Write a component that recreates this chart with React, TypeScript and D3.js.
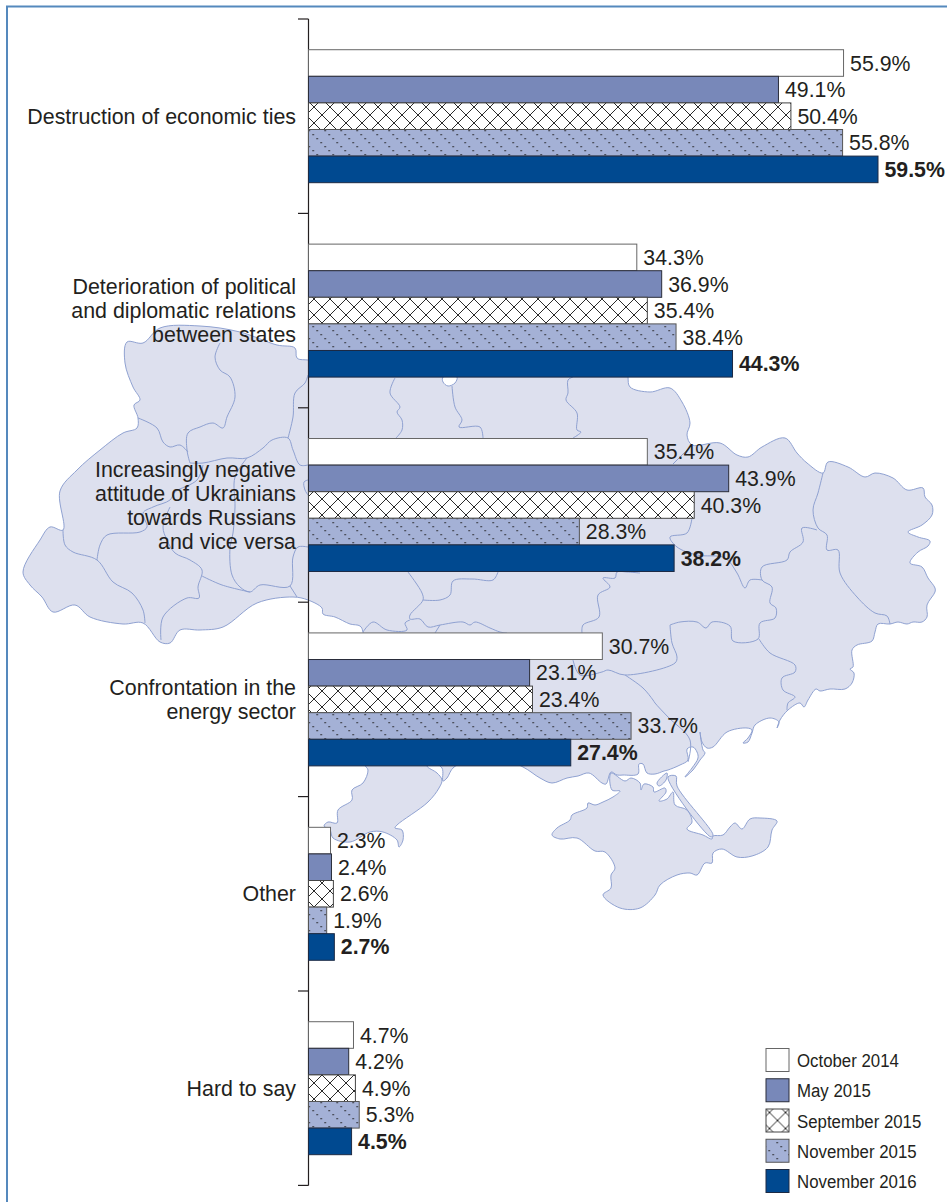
import React from "react";
import * as d3 from "d3";

const categories = [
  ["Destruction of economic ties"],
  ["Deterioration of political", "and diplomatic relations", "between states"],
  ["Increasingly negative", "attitude of Ukrainians", "towards Russians", "and vice versa"],
  ["Confrontation in the", "energy sector"],
  ["Other"],
  ["Hard to say"],
];
const seriesNames = ["October 2014", "May 2015", "September 2015", "November 2015", "November 2016"];
const october2014 = [55.9, 34.3, 35.4, 30.7, 2.3, 4.7];
const may2015 = [49.1, 36.9, 43.9, 23.1, 2.4, 4.2];
const september2015 = [50.4, 35.4, 40.3, 23.4, 2.6, 4.9];
const november2015 = [55.8, 38.4, 28.3, 33.7, 1.9, 5.3];
const november2016 = [59.5, 44.3, 38.2, 27.4, 2.7, 4.5];
const seriesValues = [october2014, may2015, september2015, november2015, november2016];
const seriesFills = ["#ffffff", "#7888b9", "url(#cross)", "url(#dots)", "#004990"];
const legendFills = ["#ffffff", "#7888b9", "url(#crossLegend)", "url(#dots)", "#004990"];
const seriesStrokes = ["#666666", "#2a2d3a", "#444444", "#555555", "#1c2a44"];

type P = [number, number];
// Backdrop map of Ukraine, in page pixels
const mainland: P[] = [
  [127,342],[143,343],[160,328],[200,326],[240,332],[277,345],[295,348],[297,358],[308,360],[628,360],[628,377],[630,387],
  [650,392],[670,388],[682,402],[690,423],[687,435],[692,445],[720,443],[737,455],[748,457],[762,447],[785,438],[797,453],
  [807,463],[823,473],[828,462],[848,467],[865,477],[875,473],[893,478],[907,490],[923,488],[925,497],[932,505],[932,515],
  [922,525],[908,532],[918,537],[930,541],[928,546],[918,552],[910,563],[922,567],[928,578],[935,588],[935,592],[927,605],
  [927,617],[922,622],[913,622],[907,624],[898,622],[890,624],[878,624],[875,632],[872,641],[857,645],[852,650],[853,667],
  [850,669],[854,673],[852,683],[845,689],[830,689],[820,691],[816,689],[808,700],[804,707],[800,703],[788,710],[780,720],
  [777,728],[779,722],[770,718],[755,725],[752,733],[748,742],[743,743],[748,738],[752,730],[747,728],[727,732],[713,747],
  [707,748],[702,742],[700,732],[703,750],[705,753],[700,760],[693,770],[685,777],[692,768],[698,758],[697,752],[693,747],
  [687,749],[688,760],[680,765],[668,770],[664,771],[655,774],[647,773],[643,764],[639,764],[638,774],[623,775],[617,775],
  [611,772],[606,784],[602,783],[589,773],[578,776],[567,778],[552,783],[540,778],[523,767],[490,755],[454,767],[447,778],
  [443,781],[442,768],[430,762],[427,766],[437,773],[442,780],[439,788],[428,802],[397,825],[395,828],[402,830],[403,840],
  [399,847],[397,840],[383,832],[370,832],[350,842],[333,838],[330,830],[324,826],[328,822],[337,823],[338,810],[352,800],
  [352,790],[363,783],[368,770],[365,765],[363,632],[360,626],[350,624],[335,617],[323,614],[322,608],[308,600],[293,597],
  [257,603],[223,627],[200,630],[180,630],[170,643],[160,642],[143,623],[123,624],[90,617],[75,605],[53,612],[42,597],
  [30,585],[23,572],[40,540],[50,527],[63,530],[60,491],[77,470],[100,450],[123,433],[137,428],[138,418],[134,405],[140,400],
  [133,387],[125,363],
];
const crimea: P[] = [
  [611,773],[625,781],[631,778],[640,783],[641,790],[644,784],[653,787],[654,792],[665,788],[666,792],[659,801],[667,799],
  [673,792],[675,805],[687,810],[692,822],[687,829],[703,835],[712,839],[713,836],[723,835],[730,827],[735,823],[742,829],
  [750,819],[760,818],[777,821],[772,830],[768,847],[752,856],[737,857],[722,849],[713,853],[712,863],[705,863],[697,875],
  [690,873],[677,875],[660,885],[655,895],[640,908],[620,908],[603,895],[611,888],[611,875],[615,868],[605,852],[595,851],
  [577,838],[560,839],[552,835],[557,828],[570,820],[572,815],[587,808],[588,803],[595,805],[603,802],[613,797],[620,791],
  [612,790],
];
const arabatSpit: P[] = [[668,777],[676,776],[677,786],[713,835],[711,837]];
const sivashIsland: P[] = [[657,783],[667,773],[666,780],[659,786]];
const northHole: P[] = [[443,377],[443,382],[448,386],[455,383],[457,377]];
const borders: P[][] = [
  [[220,343],[215,357],[220,370],[230,377],[235,397],[227,417],[223,428],[213,423],[200,427],[188,433],[187,450],[190,463]],
  [[138,418],[157,428],[163,442],[170,447],[180,445],[188,452]],
  [[190,463],[203,463],[227,458],[247,458],[263,448],[272,440],[288,438],[293,450],[300,465],[308,465]],
  [[288,438],[293,417],[295,393],[305,383],[308,375]],
  [[247,458],[235,477],[235,507],[233,533],[230,548],[232,575],[240,587],[250,592],[260,585],[290,586],[293,557],[298,547],[308,547]],
  [[290,586],[297,597]],
  [[203,465],[197,480],[175,492],[170,500],[153,507],[143,513],[147,527],[140,532],[107,535],[100,545],[97,560]],
  [[63,530],[65,545],[73,552],[97,560],[113,582],[132,593],[143,610],[145,623]],
  [[170,507],[163,527],[167,540],[175,553],[190,560],[202,570],[198,587],[199,598],[187,598],[163,617],[161,640]],
  [[202,576],[222,585],[250,592]],
  [[308,480],[304,482],[305,490],[308,495]],
  [[395,378],[390,393],[400,407],[397,412],[402,420],[402,430],[396,438]],
  [[452,386],[455,407],[462,420],[459,427],[480,427],[483,438]],
  [[573,377],[568,380],[568,393],[566,400],[577,413],[577,430],[581,432],[573,438]],
  [[823,473],[818,493],[813,510],[818,528],[827,535],[827,550],[838,550],[840,573],[857,597],[875,613],[887,616],[890,624]],
  [[817,530],[802,528],[803,542],[790,552],[787,560],[762,567],[762,580],[772,587],[770,603],[776,608],[775,618],[760,623],[758,639],[733,641],[730,626],[712,622],[706,628],[697,622],[680,622],[670,625]],
  [[759,639],[770,653],[795,665],[795,672],[782,678],[783,690],[795,697],[788,703],[787,710]],
  [[670,625],[672,643],[677,657],[675,663],[625,675],[608,670],[602,672],[580,675],[573,660]],
  [[625,675],[643,688],[653,700],[655,703],[668,717],[690,740],[688,762]],
  [[408,572],[422,593],[423,600],[410,615],[410,619],[420,619],[428,627],[440,625],[463,622],[470,625],[475,622],[490,628],[500,632],[507,633]],
  [[423,600],[440,600],[450,595],[453,581],[472,579],[493,580],[498,572]],
  [[363,632],[373,622],[387,630],[407,630],[405,623],[410,620]],
  [[440,625],[435,633]],
  [[640,573],[627,572],[617,572],[615,578],[603,578],[610,587],[598,595],[599,617],[583,625],[582,633]],
  [[692,518],[687,533],[670,537],[677,547],[697,555],[725,558],[737,573],[745,588],[750,580],[762,580]],
  [[692,445],[673,464]],
];

const width = 947;
const height = 1202;
const textColor = "#231f20";
const sans = "'Liberation Sans', Arial, sans-serif";

export default function App() {
  const x = d3.scaleLinear().domain([0, 59.5]).range([308.5, 878]);
  const groupIdx = categories.map((_, i) => i);
  const y0 = d3.scaleBand<number>().domain(groupIdx).range([19, 1185.4]).paddingInner(0.316).paddingOuter(0.158);
  const y1 = d3.scaleBand<number>().domain(seriesNames.map((_, i) => i)).range([0, y0.bandwidth()]);
  const tickYs = d3.range(categories.length + 1).map((i) => 19 + i * y0.step());
  const closed = d3.line<P>().curve(d3.curveCatmullRomClosed.alpha(0.5));
  const open = d3.line<P>().curve(d3.curveCatmullRom.alpha(0.5));
  const legendY = d3.scaleLinear().domain([0, 4]).range([1048.5, 1169.5]);
  const mapStroke = "#8a9dcf";
  const mapFill = "#dde0ee";
  return (
    <svg width={width} height={height} viewBox={`0 0 ${width} ${height}`}
      style={{ position: "absolute", left: 0, top: 0, display: "block", background: "#fff" }}>
      <defs>
        <pattern id="cross" patternUnits="userSpaceOnUse" x={306} y={3} width={16} height={16}>
          <rect width={16} height={16} fill="#fff" />
          <path d="M0 0L16 16M16 0L0 16" stroke="#2b2b2b" strokeWidth={1} />
        </pattern>
        <pattern id="crossLegend" patternUnits="userSpaceOnUse" x={769.5} y={1112.5} width={16} height={16}>
          <rect width={16} height={16} fill="#fff" />
          <path d="M0 0L16 16M16 0L0 16" stroke="#2b2b2b" strokeWidth={1} />
        </pattern>
        <pattern id="dots" patternUnits="userSpaceOnUse" x={308.5} y={2} width={16} height={16}>
          <rect width={16} height={16} fill="#a4b1d6" />
          {[0, 4, 8, 12].map((d) => <rect key={d} x={d} y={d} width={1.3} height={1.3} fill="#1c1c1c" />)}
        </pattern>
      </defs>
      <path d="M7 1203V6.5H947" fill="none" stroke="#5589bd" strokeWidth={2} />
      <g fill={mapFill} stroke={mapStroke} strokeWidth={0.95} strokeLinejoin="round">
        <path d={closed(mainland)!} />
        <path d={closed(crimea)!} />
        <path d={closed(arabatSpit)!} />
        <path d={closed(sivashIsland)!} />
        <path d={closed(northHole)!} fill="#fff" />
        {borders.map((b, i) => <path key={i} d={open(b)!} fill="none" />)}
      </g>
      <g stroke="#231f20" strokeWidth={1.2}>
        <line x1={308.5} x2={308.5} y1={tickYs[0]} y2={tickYs[tickYs.length - 1]} />
        {tickYs.map((t) => <line key={t} x1={298} x2={308.5} y1={t} y2={t} />)}
      </g>
      {categories.map((lines, g) => {
        const cy = y0(g)! + y0.bandwidth() / 2;
        const top = cy - ((lines.length - 1) * 24) / 2;
        return (
          <text key={g} textAnchor="end" fontFamily={sans} fontSize={21.4} fill={textColor}>
            {lines.map((l, i) => <tspan key={i} x={296} y={top + i * 24 + 7.5}>{l}</tspan>)}
          </text>
        );
      })}
      {categories.map((_, g) => (
        <g key={g}>
          {seriesValues.map((vals, s) => (
            <rect key={s} x={x(0)} y={y0(g)! + y1(s)!} width={x(vals[g]) - x(0)} height={y1.bandwidth()}
              fill={seriesFills[s]} stroke={seriesStrokes[s]} strokeWidth={1} />
          ))}
          {seriesValues.map((vals, s) => (
            <text key={s} x={x(vals[g]) + 6.5} y={y0(g)! + y1(s)! + y1.bandwidth() / 2 + 7.5}
              fontFamily={sans} fontSize={21.3} fontWeight={s === 4 ? 700 : 400} fill={textColor}>
              {vals[g].toFixed(1)}%
            </text>
          ))}
        </g>
      ))}
      {seriesNames.map((name, s) => (
        <g key={name}>
          <rect x={766} y={legendY(s)} width={23} height={23} fill={legendFills[s]} stroke={seriesStrokes[s]} strokeWidth={1} />
          <text transform={`translate(797,${legendY(s) + 18.5}) scale(0.885,1)`}
            fontFamily={sans} fontSize={19} fill={textColor}>{name}</text>
        </g>
      ))}
    </svg>
  );
}
